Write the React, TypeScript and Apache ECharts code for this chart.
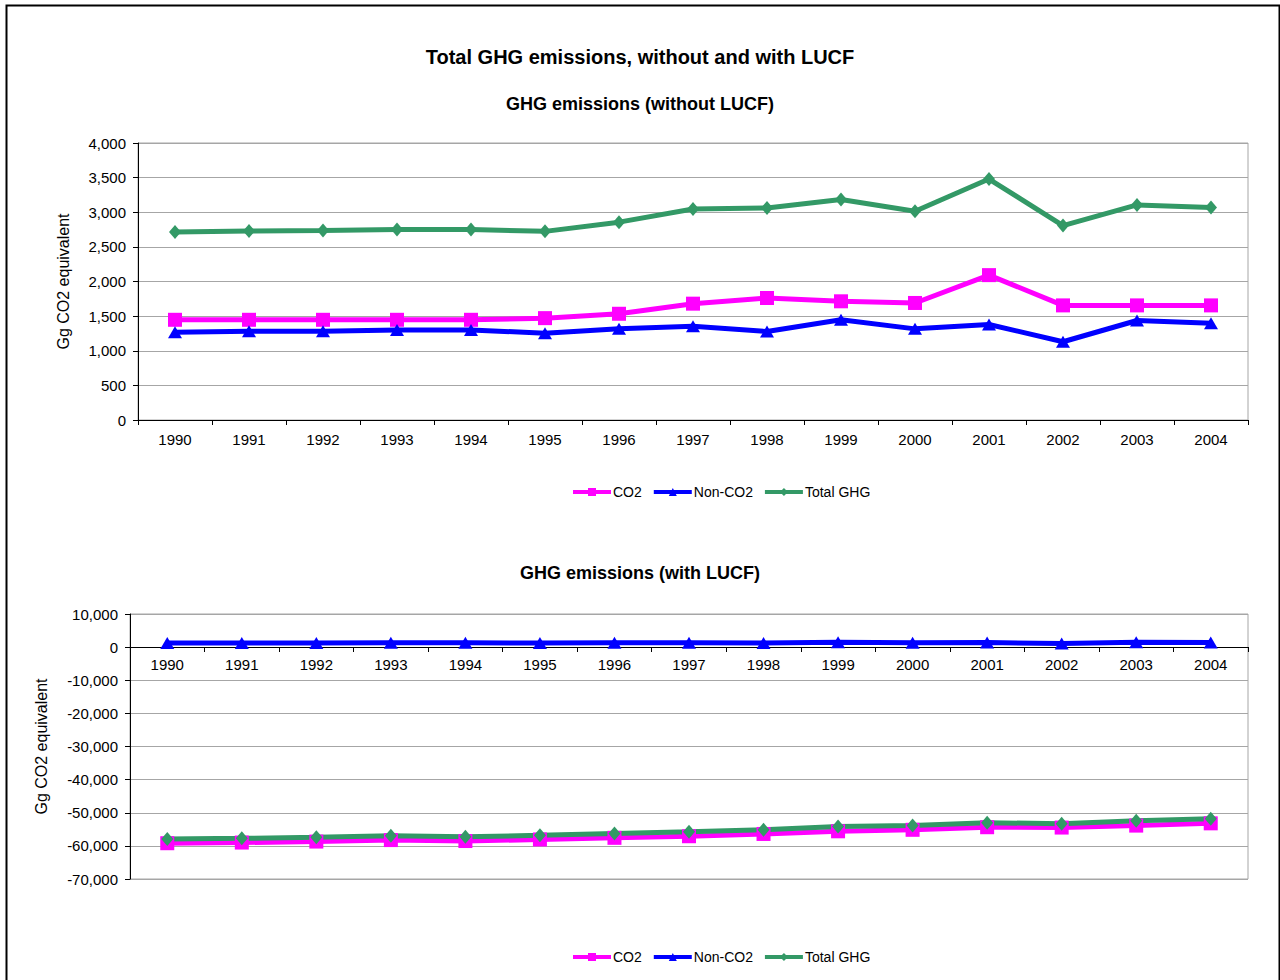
import React, { useEffect, useRef } from "react";
import * as echarts from "echarts";

const years = ["1990", "1991", "1992", "1993", "1994", "1995", "1996", "1997", "1998", "1999", "2000", "2001", "2002", "2003", "2004"];

// Without LUCF
const co2Without = [1447, 1447, 1447, 1447, 1447, 1471, 1534, 1680, 1762, 1714, 1690, 2092, 1655, 1655, 1655];
const nonCo2Without = [1267, 1282, 1282, 1301, 1301, 1252, 1316, 1354, 1277, 1447, 1316, 1379, 1130, 1437, 1398];
const totalWithout = [2714, 2729, 2738, 2752, 2752, 2724, 2857, 3048, 3062, 3183, 3014, 3480, 2808, 3106, 3068];

// With LUCF
const co2With = [-59200, -59000, -58700, -58250, -58540, -58060, -57570, -57090, -56400, -55600, -55150, -54370, -54470, -53880, -53200];
const nonCo2With = [1267, 1282, 1282, 1301, 1301, 1252, 1316, 1354, 1277, 1447, 1316, 1379, 1130, 1437, 1398];
const totalWith = [-57930, -57720, -57420, -56950, -57240, -56810, -56250, -55740, -55120, -54150, -53830, -52990, -53340, -52440, -51800];

const seriesNames = ["CO2", "Non-CO2", "Total GHG"];
const mainTitle = "Total GHG emissions, without and with LUCF";
const topTitle = "GHG emissions (without LUCF)";
const bottomTitle = "GHG emissions (with LUCF)";
const yName = "Gg CO2 equivalent";

const FONT = "Liberation Sans";
const PINK = "#FF00FF";
const BLUE = "#0000FF";
const GREEN = "#339966";
const GRID_LINE = "#a6a6a6";

function fmt(v: number) {
  return v.toLocaleString("en-US");
}

export default function App() {
  const ref = useRef<HTMLDivElement>(null);
  useEffect(() => {
    if (!ref.current) return;
    const chart = echarts.init(ref.current, undefined, { renderer: "svg" });

    const xAxisCommon = (gridIndex: number, margin: number, offset: number) => ({
      type: "category",
      gridIndex,
      data: years,
      boundaryGap: true,
      offset,
      axisLine: { show: true, onZero: false, lineStyle: { color: "#000", width: 1 } },
      axisTick: { show: true, alignWithLabel: false, length: 5, lineStyle: { color: "#000" } },
      axisLabel: { color: "#000", fontFamily: FONT, fontSize: 15, margin },
      splitLine: { show: false },
    });

    const yAxisCommon = (gridIndex: number, min: number, max: number, interval: number, nameGap: number) => ({
      type: "value",
      gridIndex,
      min,
      max,
      interval,
      name: yName,
      nameLocation: "middle",
      nameGap,
      nameRotate: 90,
      nameTextStyle: { color: "#000", fontFamily: FONT, fontSize: 16 },
      axisLine: { show: true, lineStyle: { color: "#000", width: 1 } },
      axisTick: { show: true, length: 5, lineStyle: { color: "#000" } },
      axisLabel: { color: "#000", fontFamily: FONT, fontSize: 15, margin: 12, formatter: (v: number) => fmt(v) },
      splitLine: { show: true, lineStyle: { color: GRID_LINE, width: 1 } },
    });

    const mk = (name: string, data: number[], idx: number, color: string, symbol: string, size: any) => ({
      name,
      type: "line",
      xAxisIndex: idx,
      yAxisIndex: idx,
      data,
      symbol,
      symbolSize: size,
      lineStyle: { color, width: 5 },
      itemStyle: { color },
      emphasis: { disabled: true },
    });

    const legendCommon = (top: number) => ({
      data: seriesNames,
      left: 566,
      top,
      itemWidth: 38,
      itemHeight: 10,
      itemGap: 10,
      lineStyle: { width: 4 },
      textStyle: { color: "#000", fontFamily: FONT, fontSize: 14, padding: [0, 0, 0, -3] },
    });

    chart.setOption({
      animation: false,
      backgroundColor: "#fff",
      title: [
        { text: mainTitle, left: "center", top: 42, textStyle: { fontFamily: FONT, fontSize: 20, fontWeight: "bold", color: "#000" } },
        { text: topTitle, left: "center", top: 90, textStyle: { fontFamily: FONT, fontSize: 18, fontWeight: "bold", color: "#000" } },
        { text: bottomTitle, left: "center", top: 559, textStyle: { fontFamily: FONT, fontSize: 18, fontWeight: "bold", color: "#000" } },
      ],
      graphic: [
        {
          type: "rect",
          shape: { x: 6.5, y: 5.5, width: 1273, height: 1000 },
          style: { fill: "none", stroke: "#000", lineWidth: 2 },
          silent: true,
          z: 100,
        },
      ],
      legend: [legendCommon(480), legendCommon(945)],
      grid: [
        { left: 138, top: 143, width: 1110, height: 277, show: true, borderColor: GRID_LINE, borderWidth: 1, backgroundColor: "transparent" },
        { left: 130, top: 614, width: 1118, height: 265, show: true, borderColor: GRID_LINE, borderWidth: 1, backgroundColor: "transparent" },
      ],
      xAxis: [xAxisCommon(0, 12, 0), xAxisCommon(1, 10, -232)],
      yAxis: [yAxisCommon(0, 0, 4000, 500, 67), yAxisCommon(1, -70000, 10000, 10000, 81)],
      series: [
        mk("CO2", co2Without, 0, PINK, "rect", 14),
        mk("Non-CO2", nonCo2Without, 0, BLUE, "triangle", [14, 12]),
        mk("Total GHG", totalWithout, 0, GREEN, "diamond", [12, 14]),
        mk("CO2", co2With, 1, PINK, "rect", 14),
        mk("Non-CO2", nonCo2With, 1, BLUE, "triangle", [14, 12]),
        mk("Total GHG", totalWith, 1, GREEN, "diamond", [12, 14]),
      ],
    });
    return () => chart.dispose();
  }, []);
  return <div ref={ref} style={{ position: "absolute", left: 0, top: 0, width: 1280, height: 980 }} />;
}
